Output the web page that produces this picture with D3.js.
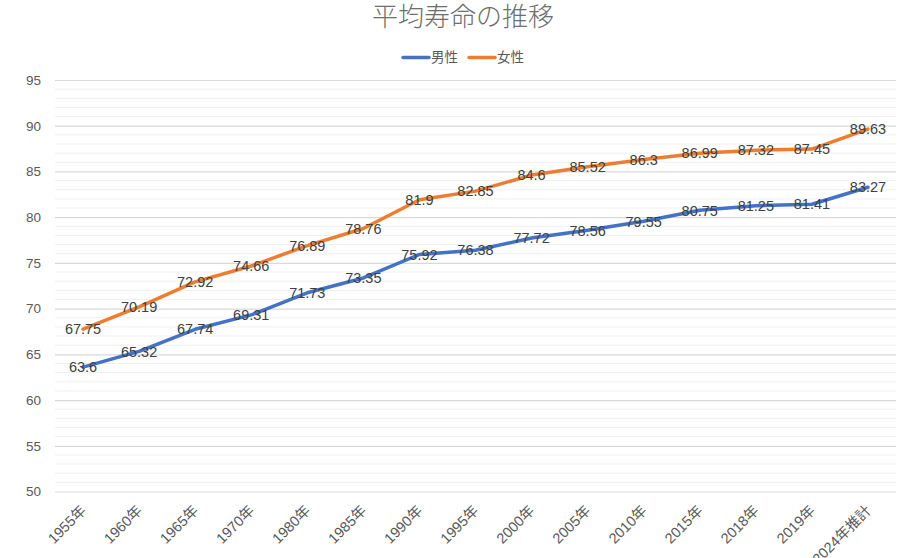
<!DOCTYPE html>
<html><head><meta charset="utf-8">
<script src="https://cdn.jsdelivr.net/npm/d3@7"></script>
<style>
html,body{margin:0;padding:0;background:#fff;}
text{font-family:"Liberation Sans","Noto Sans CJK JP",sans-serif;}
</style></head>
<body>
<svg id="c" width="921" height="558"></svg>
<script>
const categories = ["1955年","1960年","1965年","1970年","1980年","1985年","1990年","1995年","2000年","2005年","2010年","2015年","2018年","2019年","2024年推計"];
const male = [63.6,65.32,67.74,69.31,71.73,73.35,75.92,76.38,77.72,78.56,79.55,80.75,81.25,81.41,83.27];
const female = [67.75,70.19,72.92,74.66,76.89,78.76,81.9,82.85,84.6,85.52,86.3,86.99,87.32,87.45,89.63];
const yTicks = [50,55,60,65,70,75,80,85,90,95];
const seriesNames = ["男性","女性"];
const colors = ["#4472C4","#ED7D31"];

const svg = d3.select("#c");
const pL = 55, pR = 896, pT = 80, pB = 491.5;
const x = d3.scaleBand().domain(categories).range([pL, pR]);
const y = d3.scaleLinear().domain([50,95]).range([pB, pT]);

// minor gridlines
const minor = d3.range(50, 96, 1).filter(v => v % 5 !== 0);
svg.append("g").selectAll("line").data(minor).join("line")
  .attr("x1", pL).attr("x2", pR)
  .attr("y1", d => y(d)).attr("y2", d => y(d))
  .attr("stroke", "#f0f0f0").attr("stroke-width", 1);

// major grid + y axis
const yAxis = d3.axisLeft(y).tickValues(yTicks).tickSize(-(pR-pL)).tickPadding(14);
const gy = svg.append("g").attr("transform", `translate(${pL},0)`).call(yAxis);
gy.select(".domain").remove();
gy.selectAll(".tick line").attr("stroke", "#d9d9d9").attr("stroke-width", 1.2);
gy.selectAll(".tick text").attr("fill", "#595959").style("font-size", "13.5px");

// x axis labels
const xAxis = d3.axisBottom(x).tickSize(0);
const gx = svg.append("g").attr("transform", `translate(0,${pB})`).call(xAxis);
gx.select(".domain").remove();
gx.selectAll(".tick text")
  .attr("fill", "#595959").style("font-size", "14.5px")
  .attr("text-anchor", "end")
  .attr("dy", null).attr("y", 0)
  .attr("transform", "translate(4,20) rotate(-45)");

// lines
const line = d3.line().x((d,i) => x(categories[i]) + x.bandwidth()/2).y(d => y(d));
[male, female].forEach((s, k) => {
  svg.append("path").datum(s).attr("d", line)
    .attr("fill", "none").attr("stroke", colors[k]).attr("stroke-width", 3.5)
    .attr("stroke-linejoin", "round").attr("stroke-linecap", "round");
});
// data labels
[male, female].forEach((s, k) => {
  svg.append("g").selectAll("text").data(s).join("text")
    .attr("x", (d,i) => x(categories[i]) + x.bandwidth()/2)
    .attr("y", d => y(d))
    .attr("dy", "0.36em")
    .attr("text-anchor", "middle")
    .attr("fill", "#404040").style("font-size", "14.5px")
    .text(d => d);
});

// title
svg.append("text").attr("x", 463).attr("y", 26).attr("text-anchor", "middle")
  .attr("fill", "#6e6e6e").style("font-size", "26px").style("font-weight", 200)
  .style("font-family", "'Noto Sans CJK JP Light','Noto Sans CJK JP',sans-serif")
  .text("平均寿命の推移");

// legend
const lg = svg.append("g");
const legX = [403, 469];
seriesNames.forEach((n, k) => {
  lg.append("line").attr("x1", legX[k]).attr("x2", legX[k] + 26)
    .attr("y1", 57.5).attr("y2", 57.5).attr("stroke", colors[k]).attr("stroke-width", 3.5)
    .attr("stroke-linecap", "round");
  lg.append("text").attr("x", legX[k] + 28).attr("y", 57.5).attr("dy", "0.36em")
    .attr("fill", "#595959").style("font-size", "13.5px")
    .style("font-family", "'Noto Sans CJK JP',sans-serif").text(n);
});
</script>
</body></html>
